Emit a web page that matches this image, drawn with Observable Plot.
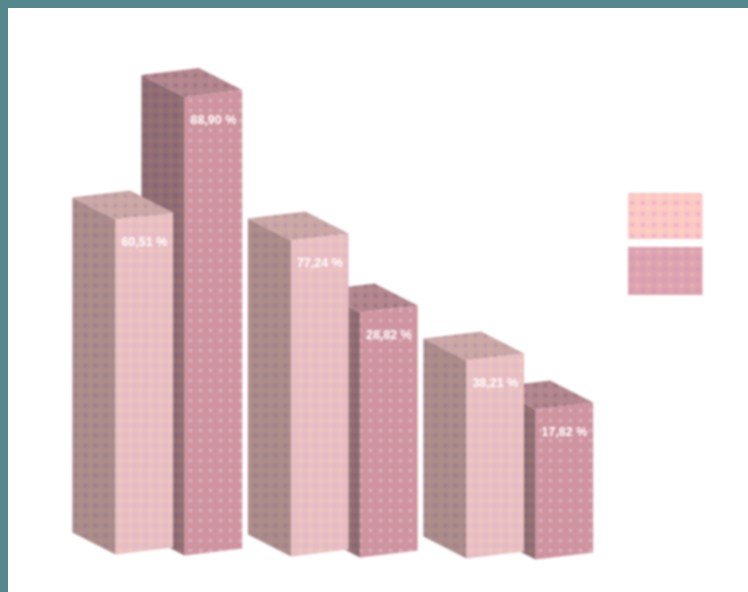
<!DOCTYPE html>
<html>
<head>
<meta charset="utf-8">
<script src="https://cdn.jsdelivr.net/npm/d3@7"></script>
<script src="https://cdn.jsdelivr.net/npm/@observablehq/plot@0.6"></script>
<style>
html,body{margin:0;padding:0;background:#fff;overflow:hidden;width:748px;height:592px}
#chart{position:absolute;left:0;top:0}
#chart svg{display:block;background:transparent;filter:blur(.8px)}
.frame{position:absolute;background:#55878f}
</style>
</head>
<body>
<div id="chart"></div>
<div class="frame" style="left:0;top:0;width:748px;height:8px"></div>
<div class="frame" style="left:0;top:0;width:8px;height:592px"></div>
<script>
const groups = ["A", "B", "C"];
const series = ["light", "dark"];
const lightHeights = [67, 63.2, 39.6];
const darkHeights = [91.7, 49, 30];
const lightLabels = ["60,51 %", "77,24 %", "38,21 %"];
const darkLabels = ["88,90 %", "28,82 %", "17,82 %"];

const W = 748, H = 592;
const xMax = 13, yMax = 118.4;
const groupStep = 3.05, seriesStep = 1.2, firstBar = 2;
const depthX = -0.75, depthY = 4.4, skew = 1.4;
const ground = 7.6, groundSlope = -0.2;
const labelDrop = 4.5;

const palette = {
  light: {front: ["#e9bfc1", "#f2cfbe", "#e0b8c8"], side: ["#ab8c8b", "#b59086", "#9e8087"], top: ["#cba8a7", "#d3aba0", "#bc979e"]},
  dark:  {front: ["#ce939f", "#e0bcc8", "#cf95a0"], side: ["#916d74", "#a17a70", "#836470"], top: ["#b3878f", "#bb8d90", "#9e7481"]}
};

const bars = groups.flatMap((g, gi) => series.map((s, si) => {
  const h = (s === "light" ? lightHeights : darkHeights)[gi];
  const label = (s === "light" ? lightLabels : darkLabels)[gi];
  const idx = gi * 2 + si;
  const x0 = firstBar + gi * groupStep + si * seriesStep;
  const y0 = ground + groundSlope * idx;
  return {g, s, h, label, x0, y0};
}));

// drawn back to front: dark bar first so the light one covers it
const drawOrder = groups.flatMap(g => ["dark", "light"].map(s => bars.find(b => b.g === g && b.s === s)));

const faceMarks = drawOrder.flatMap(b => {
  const top = b.y0 + b.h;
  const front = [
    {x: b.x0, y: b.y0}, {x: b.x0 + 1, y: b.y0 + skew},
    {x: b.x0 + 1, y: top + skew}, {x: b.x0, y: top}
  ];
  const side = [
    {x: b.x0, y: b.y0}, {x: b.x0 + depthX, y: b.y0 + depthY},
    {x: b.x0 + depthX, y: top + depthY}, {x: b.x0, y: top}
  ];
  const lid = [
    {x: b.x0, y: top}, {x: b.x0 + 1, y: top + skew},
    {x: b.x0 + 1 + depthX, y: top + skew + depthY}, {x: b.x0 + depthX, y: top + depthY}
  ];
  return [[side, "side"], [lid, "top"], [front, "front"]].map(([pts, f]) =>
    Plot.line(pts, {x: "x", y: "y", fill: `url(#${b.s}-${f})`, stroke: "none"}));
});

const legendRows = series.map((s, i) => ({
  s, x1: 10.914, x2: 12.21, y1: 79.8 - i * 10.8, y2: 70.6 - i * 11.2
}));

const svg = Plot.plot({
  width: W, height: H,
  marginTop: 0, marginRight: 0, marginBottom: 0, marginLeft: 0,
  x: {domain: [0, xMax], range: [0, W], axis: null},
  y: {domain: [0, yMax], range: [H, 0], axis: null},
  style: {background: "transparent"},
  marks: [
    ...faceMarks,
    Plot.rect(legendRows.filter(d => d.s === "light"), {x1: "x1", x2: "x2", y1: "y1", y2: "y2", fill: "url(#legend-light)"}),
    Plot.rect(legendRows.filter(d => d.s === "dark"), {x1: "x1", x2: "x2", y1: "y1", y2: "y2", fill: "url(#legend-dark)"}),
    Plot.text(bars, {
      x: d => d.x0 + 0.5,
      y: d => d.y0 + d.h - labelDrop,
      text: "label",
      fill: "#fff",
      fontSize: 12.5,
      fontWeight: 700,
      fontFamily: "Liberation Sans",
      textAnchor: "middle"
    })
  ]
});

const defs = d3.select(svg).insert("defs", ":first-child");
function addPattern(id, [base, a, b], size = 10) {
  const p = defs.append("pattern").attr("id", id)
    .attr("patternUnits", "userSpaceOnUse").attr("width", size).attr("height", size);
  p.append("rect").attr("width", size).attr("height", size).attr("fill", base);
  p.append("rect").attr("x", 3).attr("y", 3).attr("width", 4).attr("height", 4).attr("fill", b);
  p.append("rect").attr("x", -1).attr("y", -1).attr("width", 2.5).attr("height", 2.5).attr("fill", a);
  p.append("rect").attr("x", 8.5).attr("y", -1).attr("width", 2.5).attr("height", 2.5).attr("fill", a);
  p.append("rect").attr("x", -1).attr("y", 8.5).attr("width", 2.5).attr("height", 2.5).attr("fill", a);
  p.append("rect").attr("x", 8.5).attr("y", 8.5).attr("width", 2.5).attr("height", 2.5).attr("fill", a);
}
for (const s of series) for (const f of ["front", "side", "top"]) addPattern(`${s}-${f}`, palette[s][f]);
addPattern("legend-light", ["#fcc8c4", "#fdd4bb", "#eeb4cb"], 11);
addPattern("legend-dark", ["#dea3b1", "#e8b0b2", "#d49bb2"], 11);

document.getElementById("chart").append(svg);
</script>
</body>
</html>
